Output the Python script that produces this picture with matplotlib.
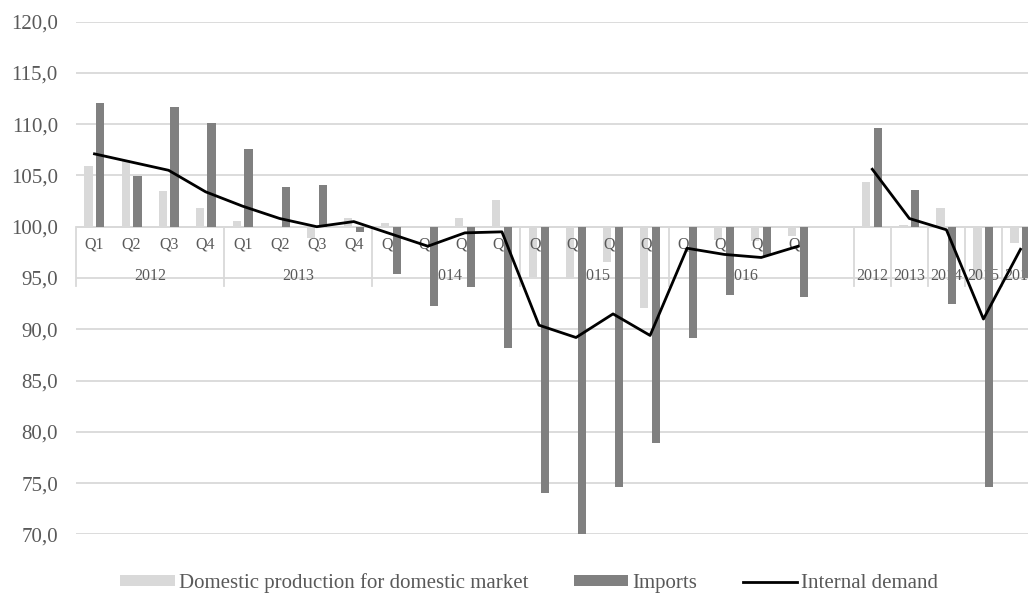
import numpy as np
import matplotlib
matplotlib.use('Agg')
import matplotlib.pyplot as plt

plt.rcParams['font.family'] = ['Liberation Serif', 'DejaVu Serif']

# categorias: 20 trimestres, un hueco, 5 años
trimestres = ["Q1", "Q2", "Q3", "Q4"] * 5
anios_trim = ["2012", "2013", "2014", "2015", "2016"]
anios = ["2012", "2013", "2014", "2015", "2016"]

produccion_trim = [105.9, 106.5, 103.5, 101.8, 100.6, 100.0, 98.9, 100.8,
                   100.4, 100.0, 100.8, 102.6, 95.1, 94.9, 96.6, 92.1,
                   99.9, 98.7, 98.6, 99.1]
importaciones_trim = [112.1, 104.9, 111.7, 110.1, 107.6, 103.9, 104.1, 99.5,
                      95.4, 92.3, 94.1, 88.2, 74.0, 69.9, 74.6, 78.9,
                      89.2, 93.3, 97.1, 93.1]
demanda_trim = [107.1, 106.3, 105.5, 103.4, 102.0, 100.8, 100.0, 100.5,
                99.3, 98.1, 99.4, 99.5, 90.4, 89.2, 91.5, 89.4,
                97.9, 97.3, 97.0, 98.1]

produccion_anual = [104.4, 100.2, 101.8, 95.0, 98.4]
importaciones_anual = [109.6, 103.6, 92.5, 74.6, 95.0]
demanda_anual = [105.6, 100.8, 99.7, 91.0, 97.8]

GRIS_CLARO = '#D9D9D9'
GRIS_OSCURO = '#808080'
TEXTO = '#595959'

produccion = np.array(produccion_trim + [np.nan] + produccion_anual)
importaciones = np.array(importaciones_trim + [np.nan] + importaciones_anual)
demanda = np.array(demanda_trim + [np.nan] + demanda_anual)
x = np.arange(len(produccion))

fig = plt.figure(figsize=(10.28, 5.93), dpi=100)
ax = fig.add_axes([0.0739, 0.0987, 0.9368, 0.865])

base = 100.0
b1 = ax.bar(x - 0.16, produccion - base, bottom=base, width=0.22, color=GRIS_CLARO,
            zorder=1.5, label='Domestic production for domestic market')
b2 = ax.bar(x + 0.16, importaciones - base, bottom=base, width=0.22, color=GRIS_OSCURO,
            zorder=2.5, label='Imports')
l1, = ax.plot(x, demanda, color='black', lw=2.0, zorder=3, label='Internal demand')

ax.set_xlim(-0.5, len(x) - 0.5)
ax.set_ylim(70, 120)
ticks = np.arange(70, 121, 5)
ax.set_yticks(ticks)
ax.set_yticklabels([f"{t:.1f}".replace('.', ',') for t in ticks],
                   fontsize=15, color=TEXTO)
ax.tick_params(axis='y', length=0, pad=13)
ax.set_xticks([])
ax.grid(axis='y', color=GRIS_CLARO, lw=1.3, zorder=0)
ax.set_axisbelow(True)
for s in ax.spines.values():
    s.set_visible(False)

# eje de categorias en 100 (multinivel)
ax.axhline(base, color=GRIS_CLARO, lw=1.3, zorder=1)
for i, q in enumerate(trimestres):
    ax.text(i, 98.3, q, ha='center', va='center', fontsize=11.5, color=TEXTO, zorder=2)
for k, a in enumerate(anios_trim):
    ax.text(4 * k + 1.5, 95.2, a, ha='center', va='center', fontsize=11.5,
            color=TEXTO, zorder=2)
for j, a in enumerate(anios):
    ax.text(21 + j, 95.2, a, ha='center', va='center', fontsize=11.5,
            color=TEXTO, zorder=2)
separadores = [-0.5, 3.5, 7.5, 11.5, 15.5, 20.5, 21.5, 22.5, 23.5, 24.5]
for sx in separadores:
    ax.plot([sx, sx], [base, 94.2], color=GRIS_CLARO, lw=1.3, zorder=1, clip_on=False)

leg = fig.legend(handles=[b1, b2, l1], loc='center', bbox_to_anchor=(0.515, 0.017),
                 ncol=3, frameon=False, fontsize=15, handlelength=2.6,
                 handleheight=0.4, handletextpad=0.2, columnspacing=2.2)
for t in leg.get_texts():
    t.set_color(TEXTO)

plt.savefig("out.png", dpi=100)
